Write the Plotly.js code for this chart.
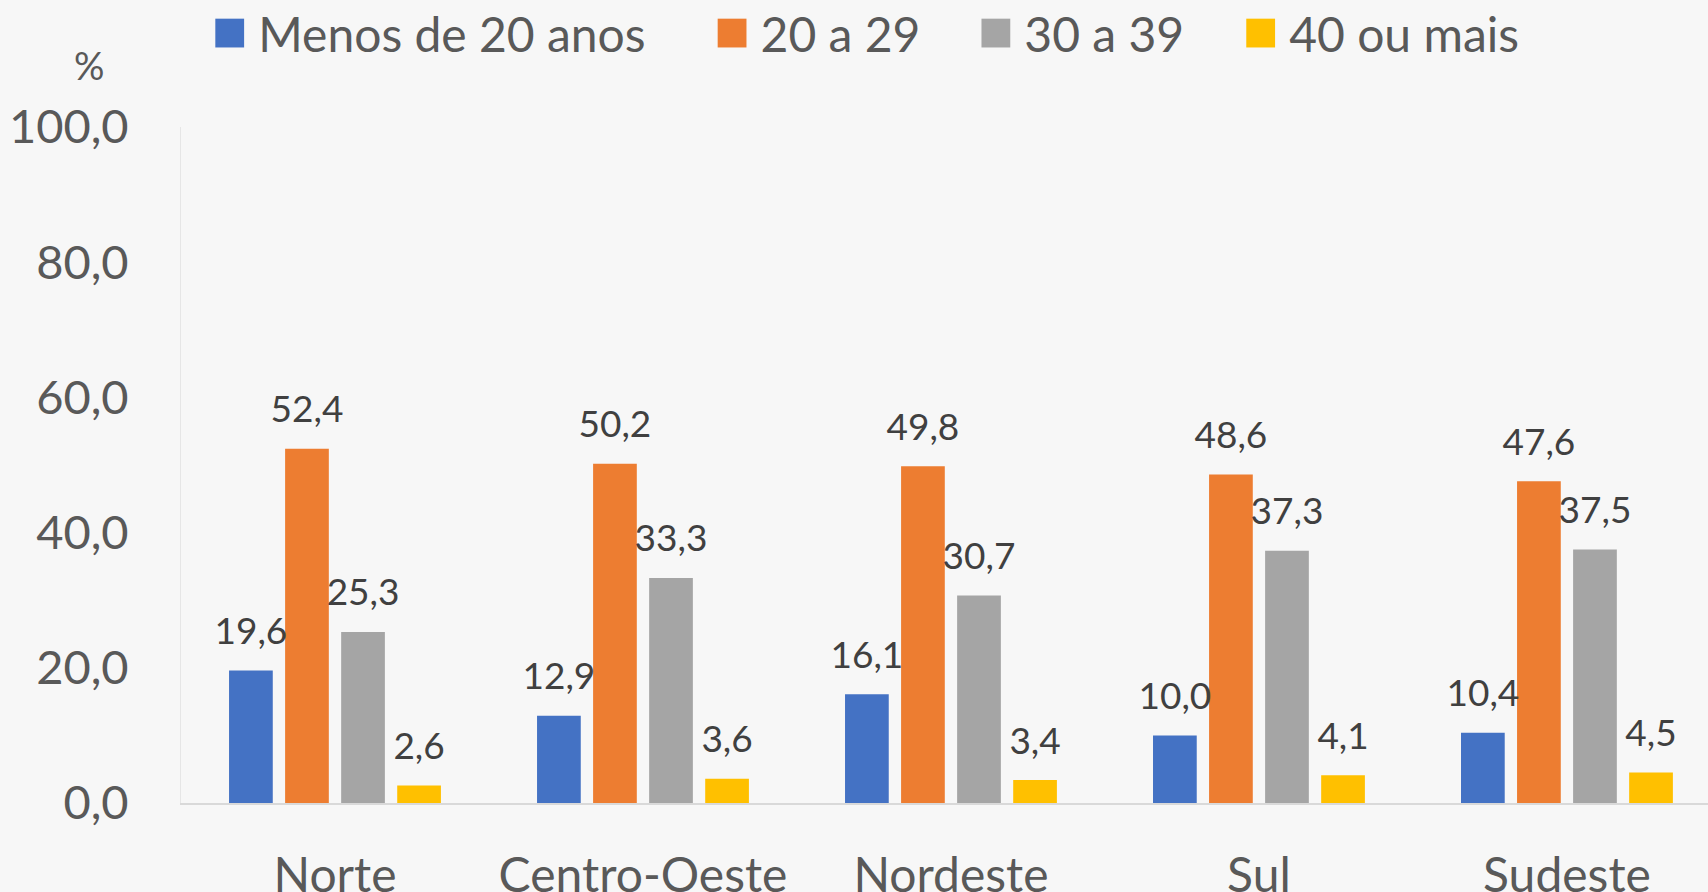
<!DOCTYPE html>
<html>
<head>
<meta charset="utf-8">
<script src="https://cdn.plot.ly/plotly-3.0.1.min.js"></script>
<style>html,body{margin:0;padding:0;background:#F7F7F7;}</style>
</head>
<body>
<div id="chart" style="width:1708px;height:892px;"></div>
<script>
var regions = ['Norte', 'Centro-Oeste', 'Nordeste', 'Sul', 'Sudeste'];
var seriesNames = ['Menos de 20 anos', '20 a 29', '30 a 39', '40 ou mais'];
var menos20 = [19.6, 12.9, 16.1, 10.0, 10.4];
var de20a29 = [52.4, 50.2, 49.8, 48.6, 47.6];
var de30a39 = [25.3, 33.3, 30.7, 37.3, 37.5];
var mais40 = [2.6, 3.6, 3.4, 4.1, 4.5];
var colors = ['#4472C4', '#ED7D31', '#A5A5A5', '#FFC000'];
var allSeries = [menos20, de20a29, de30a39, mais40];

var FONT = 'Lato, "Open Sans", sans-serif';
var traces = [];
allSeries.forEach(function (vals, i) {
  traces.push({
    type: 'bar', name: seriesNames[i], x: regions, y: vals,
    marker: {color: colors[i], line: {width: 0}},
    hoverinfo: 'skip', showlegend: true
  });
});
allSeries.forEach(function (vals, i) {
  traces.push({
    type: 'scatter', mode: 'markers+text', x: regions, y: vals,
    text: vals.map(function (v) { return v.toFixed(1).replace('.', ','); }),
    textposition: 'top center',
    textfont: {family: FONT, size: 37, color: '#404040'},
    marker: {size: 26, opacity: 0, color: colors[i]},
    cliponaxis: false, showlegend: false, hoverinfo: 'skip'
  });
});

var layout = {
  width: 1708, height: 892,
  paper_bgcolor: '#F7F7F7', plot_bgcolor: '#F7F7F7',
  margin: {l: 181, r: 0, t: 127, b: 89, pad: 0, autoexpand: false},
  font: {family: FONT, color: '#595959'},
  separators: ',.',
  barmode: 'group', bargap: 0.272, bargroupgap: 0.22,
  scattermode: 'group', scattergap: 0.272,
  xaxis: {
    type: 'category', range: [-0.5, 4.458], showgrid: false, zeroline: false,
    showline: true, linecolor: '#D9D9D9', linewidth: 2, automargin: false,
    ticks: '', tickfont: {size: 48, color: '#595959'}, ticklabelstandoff: 29,
    fixedrange: true
  },
  yaxis: {
    range: [0, 100], dtick: 20, tickformat: '.1f', showgrid: false, zeroline: false,
    showline: true, linecolor: '#E6E6E6', linewidth: 1, automargin: false,
    ticks: '', tickfont: {size: 47, color: '#595959'}, ticklabelstandoff: 42,
    fixedrange: true
  },
  legend: {
    orientation: 'h', x: 0.008, xanchor: 'left', y: 1.1385, yanchor: 'middle',
    font: {size: 48, color: '#595959'}, itemwidth: 50, bgcolor: 'rgba(0,0,0,0)',
    itemclick: false, itemdoubleclick: false
  },
  annotations: [{
    text: '%', xref: 'paper', yref: 'paper', x: -0.06, y: 1.092,
    xanchor: 'center', yanchor: 'middle', showarrow: false,
    font: {size: 38, color: '#595959'}
  }]
};

var legendShift = [5, 55, 94, 134];
function fixLegend() {
  document.querySelectorAll('.legend [clip-path]').forEach(function (el) {
    el.removeAttribute('clip-path');
  });
  var items = document.querySelectorAll('.legend .traces');
  items.forEach(function (g, i) {
    if (!g.dataset.orig) g.dataset.orig = g.getAttribute('transform') || 'translate(0,0)';
    var m = /translate\(\s*([-\d.e]+)[ ,]+([-\d.e]+)\s*\)/.exec(g.dataset.orig);
    if (m) {
      var x = parseFloat(m[1]) + (legendShift[i] || 0);
      g.setAttribute('transform', 'translate(' + x + ',' + m[2] + ')');
    }
    g.querySelectorAll('.legendpoints path').forEach(function (p) {
      if (p.dataset.origT === undefined) p.dataset.origT = p.getAttribute('transform') || '';
      p.setAttribute('transform', p.dataset.origT + ' translate(1.5,0) scale(2.4)');
    });
  });
}

Plotly.newPlot('chart', traces, layout, {displayModeBar: false, staticPlot: true}).then(function () {
  fixLegend();
  setTimeout(fixLegend, 0);
  setTimeout(fixLegend, 100);
});
</script>
</body>
</html>
